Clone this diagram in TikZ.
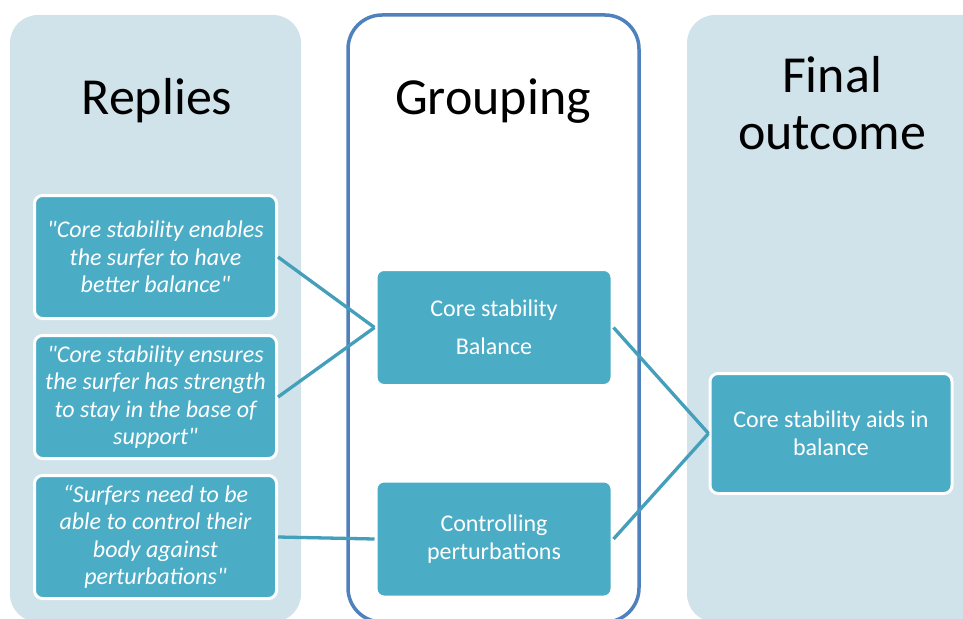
\documentclass[tikz,border=0pt]{standalone}
\usepackage{fontspec}
\setmainfont{Carlito}[Ligatures=TeXOff]

\definecolor{panelblue}{HTML}{D0E2EA}
\definecolor{boxteal}{HTML}{4BACC6}
\definecolor{frameblue}{HTML}{4F81BD}
\definecolor{linkteal}{HTML}{449FBA}

\begin{document}
\begin{tikzpicture}[x=1pt, y=-1pt,
  title/.style={font=\fontsize{52}{57}\selectfont, align=center},
  card/.style={draw=white, line width=3pt, fill=boxteal, rounded corners=8pt,
    text=white, align=center, inner sep=0pt},
  reply/.style={card, minimum width=242pt, minimum height=123pt,
    font=\fontsize{24}{27.5}\selectfont\itshape},
  group/.style={card, minimum width=236pt, minimum height=116pt,
    font=\fontsize{24}{28}\selectfont},
  outcome/.style={card, minimum width=242pt, minimum height=120pt,
    font=\fontsize{24}{28}\selectfont},
  link/.style={draw=linkteal, line width=3.3pt}]
\useasboundingbox (0,0) rectangle (963,618);
\clip (0,0) rectangle (963,618);
\fill [white] (0,0) rectangle (963,618);

  % the three columns
  \fill [panelblue, rounded corners=28pt] (10,15) rectangle (301,622);
  \draw [frameblue, line width=3.5pt, rounded corners=34pt] (348,15) rectangle (639,622);
  \fill [panelblue, rounded corners=28pt] (687,15) rectangle (995,622);

  \node [title] (replies)  at (157,101) {Replies};
  \node [title] (grouping) at (493,101) {Grouping};
  \node [title] (final)    at (832,103) {Final\\outcome};

  % replies
  \node [reply] (r1) at (155.5,257) {"Core stability enables\\the surfer to have\\better balance"};
  \node [reply] (r2) at (155.5,397) {"Core stability ensures\\the surfer has strength\\to stay in the base of\\support"};
  \node [reply] (r3) at (155.5,537) {“Surfers need to be\\able to control their\\body against\\perturbations"};

  % groups
  \node [group] (g1) at (494,327.5) {Core stability\\[10pt]Balance};
  \node [group] (g2) at (494,539)   {Controlling\\perturbations};

  % outcome
  \node [outcome] (o1) at (831,433.5) {Core stability aids in\\balance};

  \draw [link] (r1.east) -- (g1.west);
  \draw [link] (r2.east) -- (g1.west);
  \draw [link] (r3.east) -- (g2.west);
  \draw [link] (g1.east) -- (o1.west);
  \draw [link] (g2.east) -- (o1.west);
\end{tikzpicture}
\end{document}
